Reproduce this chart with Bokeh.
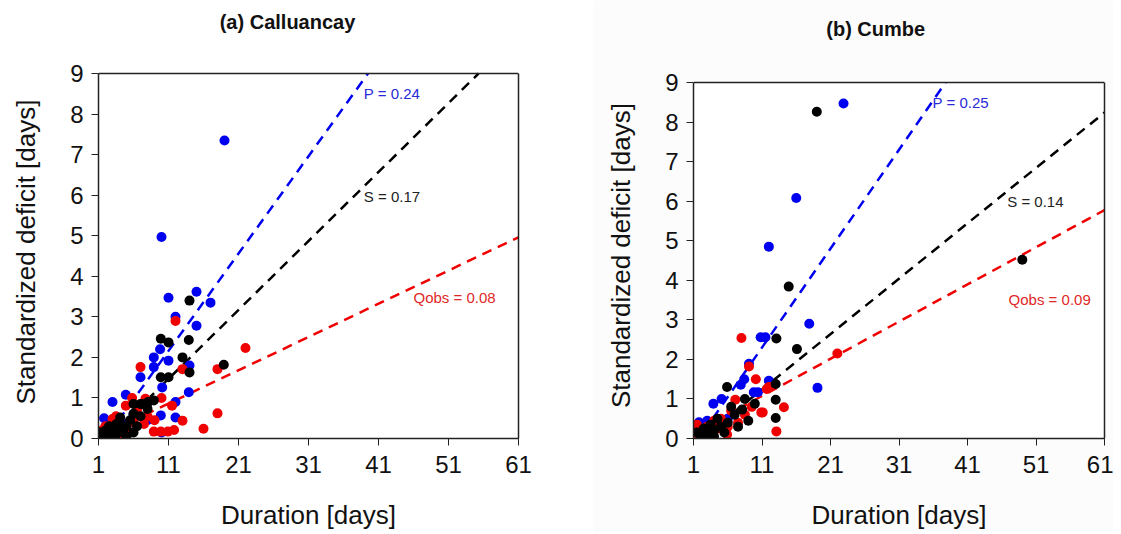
from bokeh.plotting import figure
from bokeh.models import Range1d, FixedTicker, Label, Span, LinearAxis, BoxAnnotation
from bokeh.layouts import row
from bokeh.embed import file_html
from bokeh.resources import INLINE
import numpy as np

FONT = "Liberation Sans"
X_TICKS = [1, 11, 21, 31, 41, 51, 61]
Y_TICKS = [0, 1, 2, 3, 4, 5, 6, 7, 8, 9]
X_LABEL = "Duration [days]"
Y_LABEL = "Standardized deficit [days]"
BLUE = "#0000f0"
RED = "#f00000"
BLACK = "#000000"

# ---------------- (a) Calluancay ----------------
a_title = "(a) Calluancay"
a_blue_x = [19, 10, 11, 15, 17, 15, 12, 9.8, 8.9, 11, 8.9, 7, 10.1, 14, 13.9, 12, 9.9, 4.9, 3, 1.8, 12,
            2, 3, 4, 5, 6, 1.5, 2.5, 8, 10]
a_blue_y = [7.35, 4.97, 3.47, 3.62, 3.35, 2.78, 3.0, 2.2, 2.0, 1.92, 1.76, 1.51, 1.26, 1.8, 1.14, 0.9, 0.57, 1.08, 0.9, 0.5, 0.52,
            0.3, 0.2, 0.5, 0.35, 0.6, 0.1, 0.05, 0.45, 0.15]
a_red_x = [12, 22, 7, 13, 18, 18, 16, 13, 11.8, 10.9, 9.9, 8.9, 4.9, 3, 7.7, 5.8, 11.5, 6, 7.5, 2, 3.5, 4, 5,
           2.5, 8, 9, 6.5, 1.5, 10]
a_red_y = [2.9, 2.23, 1.76, 1.71, 1.71, 0.62, 0.24, 0.44, 0.21, 0.17, 0.17, 0.17, 0.81, 0.48, 0.98, 1.0, 0.81, 0.4, 0.36, 0.3, 0.55, 0.1, 0.25,
           0.1, 0.55, 0.45, 0.7, 0.2, 1.0]
a_black_x = [14, 9.9, 11, 13.9, 13, 14, 9.9, 11, 18.9, 8.9, 7, 8, 6, 6, 4.1, 8.1, 7.2, 5, 4, 3, 2, 1.5, 2.5, 3.5,
             4.5, 5.5, 6.5, 3, 2, 5, 1.2, 4, 6, 7, 3.5]
a_black_y = [3.4, 2.46, 2.37, 2.43, 2.0, 1.63, 1.51, 1.51, 1.82, 0.94, 0.85, 0.73, 0.85, 0.61, 0.52, 0.9, 0.85, 0.3, 0.25, 0.2, 0.1, 0.05, 0.3, 0.1,
             0.15, 0.45, 0.3, 0.05, 0.2, 0.05, 0.15, 0.4, 0.15, 0.55, 0.35]
# fitted lines: slope, intercept
a_fit_slopes = [0.24, 0.17, 0.082]
a_fit_intercepts = [-0.48, -0.40, -0.04]
a_fit_labels = ["P = 0.24", "S = 0.17", "Qobs = 0.08"]
a_label_x = [38.9, 38.9, 46.0]
a_label_y = [8.5, 5.96, 3.47]

# ---------------- (b) Cumbe ----------------
b_title = "(b) Cumbe"
b_blue_x = [22.9, 16, 12, 17.9, 19.1, 10.8, 11.5, 9.1, 8.4, 7.9, 12, 9.8, 10.4, 5.1, 3.9, 1.8, 1.2, 2.5, 3, 4, 6, 1.5]
b_blue_y = [8.47, 6.08, 4.85, 2.9, 1.28, 2.56, 2.56, 1.89, 1.5, 1.36, 1.46, 1.17, 1.17, 1.0, 0.88, 0.41, 0.3, 0.2, 0.45, 0.3, 0.5, 0.1]
b_red_x = [8, 22, 9.1, 10.1, 12, 11.1, 14.2, 13.1, 7.1, 5.9, 11.7, 10.9, 9.5, 8.5, 6.5, 5, 4, 3, 2, 1.5, 2.5, 3.5,
           4.5, 6, 7.5, 1.2]
b_red_y = [2.54, 2.15, 1.82, 1.5, 1.3, 0.66, 0.79, 0.18, 0.98, 0.1, 1.25, 0.66, 0.8, 0.6, 0.7, 0.5, 0.45, 0.3, 0.2, 0.35, 0.05, 0.15,
           0.25, 0.3, 0.4, 0.05]
b_black_x = [19, 14.9, 49, 13.1, 16.1, 13, 13, 13, 5.9, 9.95, 8.1, 7, 6, 5, 4, 3, 2, 2.5, 3.5, 4.5, 5.5, 7.5, 1.5,
             6.5, 8.5, 4, 9]
b_black_y = [8.26, 3.84, 4.52, 2.53, 2.26, 1.38, 0.98, 0.52, 1.3, 0.88, 0.73, 0.6, 0.4, 0.3, 0.2, 0.1, 0.05, 0.25, 0.35, 0.5, 0.15, 0.3, 0.15,
             0.8, 1.0, 0.05, 0.45]
b_fit_slopes = [0.25, 0.14, 0.094]
b_fit_intercepts = [-0.45, -0.30, 0.04]
b_fit_labels = ["P = 0.25", "S = 0.14", "Qobs = 0.09"]
b_label_x = [35.9, 46.8, 47.0]
b_label_y = [8.49, 5.98, 3.51]

LINE_COLORS = [BLUE, BLACK, RED]
LABEL_COLORS = ["#2a2ad8", "#222222", "#e02828"]
EDGE = "#222222"
X_MIN, X_MAX, Y_MAX = 1, 61, 9
NBSP = "\u00a0"


def style_axis(ax):
    ax.major_tick_in = 0
    ax.major_tick_out = 7
    ax.minor_tick_line_color = None
    ax.major_label_text_font = FONT
    ax.major_label_text_font_size = "24px"
    ax.major_label_text_color = "#111111"
    ax.axis_label_text_font = FONT
    ax.axis_label_text_font_size = "26px"
    ax.axis_label_text_font_style = "normal"
    ax.axis_label_text_color = "#111111"
    ax.axis_line_color = EDGE
    ax.axis_line_width = 1.5
    ax.major_tick_line_color = EDGE


def panel(title, title_x, title_y, blue, red, black, slopes, intercepts, labels, lx, ly,
          fw, px_per_unit, bl, br, bg, ylabel_pad):
    # frame runs from the top of the canvas down to the x axis (438 px);
    # the visible box is closed at y = 9 with a span and a bounded right axis
    frame_h = 438
    y_top = frame_h / px_per_unit
    p = figure(frame_width=fw, frame_height=frame_h,
               x_range=Range1d(X_MIN, X_MAX), y_range=Range1d(0, y_top),
               output_backend="svg", toolbar_location=None,
               min_border_left=bl, min_border_right=br,
               min_border_top=0, min_border_bottom=94)
    p.border_fill_color = bg
    p.background_fill_color = bg
    p.outline_line_color = None
    p.grid.visible = False
    p.add_layout(BoxAnnotation(left=X_MIN, right=X_MAX, bottom=0, top=Y_MAX,
                               fill_color="white", fill_alpha=1, line_color=None,
                               level="underlay"))
    style_axis(p.xaxis[0])
    style_axis(p.yaxis[0])
    p.xaxis.ticker = FixedTicker(ticks=X_TICKS)
    p.yaxis.ticker = FixedTicker(ticks=Y_TICKS)
    p.yaxis.bounds = (0, Y_MAX)
    p.xaxis.axis_label = X_LABEL
    # the label is centred on the whole frame; pad its far end so the
    # visible words sit centred on the 0-9 box
    p.yaxis.axis_label = Y_LABEL + NBSP * ylabel_pad
    p.xaxis.major_label_standoff = 10
    p.yaxis.major_label_standoff = 8
    p.xaxis.axis_label_standoff = 24
    p.yaxis.axis_label_standoff = 26

    p.add_layout(Span(location=Y_MAX, dimension="width", line_color=EDGE, line_width=1.5))
    rax = LinearAxis(bounds=(0, Y_MAX), ticker=FixedTicker(ticks=[]),
                     major_label_text_font_size="0px", axis_line_color=EDGE,
                     axis_line_width=1.5, major_tick_line_color=None,
                     minor_tick_line_color=None)
    p.add_layout(rax, "right")

    for s, c, col in zip(slopes, intercepts, LINE_COLORS):
        x_end = min(X_MAX, (Y_MAX - c) / s)
        xs = np.array([X_MIN, x_end])
        p.line(xs, s * xs + c, line_color=col, line_width=2.5, line_dash="10 7")

    for (x, y), col in zip([blue, red, black], [BLUE, RED, BLACK]):
        p.scatter(x, y, size=10, fill_color=col, line_color=col, line_width=0)

    for t, x, y, col in zip(labels, lx, ly, LABEL_COLORS):
        p.add_layout(Label(x=x, y=y, text=t, text_font=FONT, text_font_size="15px",
                           text_color=col, text_baseline="middle", text_align="left"))

    p.add_layout(Label(x=title_x, y=title_y, text=title, text_font=FONT,
                       text_font_size="20px", text_font_style="bold", text_color="#111111",
                       text_align="center", text_baseline="middle"))
    return p


pa = panel(a_title, 28.0, 10.28, (a_blue_x, a_blue_y), (a_red_x, a_red_y), (a_black_x, a_black_y),
           a_fit_slopes, a_fit_intercepts, a_fit_labels, a_label_x, a_label_y,
           420, 365 / 9, 98, 75, "white", 9)
pb = panel(b_title, 27.6, 10.34, (b_blue_x, b_blue_y), (b_red_x, b_red_y), (b_black_x, b_black_y),
           b_fit_slopes, b_fit_intercepts, b_fit_labels, b_label_x, b_label_y,
           411, 356 / 9, 100, 9, "#fcfcfc", 10)

layout = row(pa, pb)
open("out.html", "w").write(file_html(layout, INLINE))
